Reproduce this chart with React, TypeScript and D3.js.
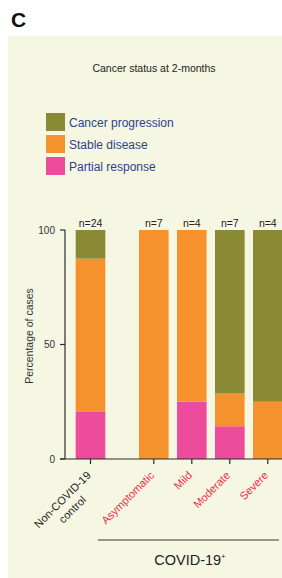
import React, { useEffect, useRef } from "react";
import * as d3 from "d3";

const controlCategory = ["Non-COVID-19 control"];
const covidCategories = ["Asymptomatic", "Mild", "Moderate", "Severe"];
const categories = [...controlCategory, ...covidCategories];
const nLabels = ["n=24", "n=7", "n=4", "n=7", "n=4"];
const seriesNames = ["Partial response", "Stable disease", "Cancer progression"];
const partialResponse = [20.8, 0, 25, 14.3, 0];
const stableDisease = [66.7, 100, 75, 14.3, 25];
const cancerProgression = [12.5, 0, 0, 71.4, 75];
const yTicks = [0, 50, 100];
const legendOrder = ["Cancer progression", "Stable disease", "Partial response"];

const colors: Record<string, string> = {
  "Cancer progression": "#8a8a34",
  "Stable disease": "#f6922d",
  "Partial response": "#ed4b9b",
};

const FONT = "'Liberation Sans', Arial, Helvetica, sans-serif";

export default function App() {
  const ref = useRef<SVGSVGElement | null>(null);

  useEffect(() => {
    const svg = d3.select(ref.current);
    svg.selectAll("*").remove();
    svg.attr("font-family", FONT);

    // panel background
    svg.append("rect").attr("x", 8).attr("y", 36).attr("width", 274).attr("height", 542).attr("fill", "#f6f7e3");

    svg.append("text").attr("x", 11).attr("y", 27).attr("font-size", 21).attr("font-weight", "bold").attr("fill", "#111").text("C");

    svg.append("text").attr("x", 154).attr("y", 72).attr("text-anchor", "middle").attr("font-size", 10.5).attr("fill", "#222").text("Cancer status at 2-months");

    // legend
    const lg = svg.append("g");
    legendOrder.forEach((name, i) => {
      const y0 = 113 + i * 22;
      lg.append("rect").attr("x", 46).attr("y", y0).attr("width", 19).attr("height", 18).attr("fill", colors[name]);
      lg.append("text").attr("x", 69).attr("y", y0 + 14).attr("font-size", 12).attr("fill", "#2d3f8e").text(name);
    });

    const y = d3.scaleLinear().domain([0, 100]).range([459, 230]);
    const xControl = d3.scaleBand<string>().domain(controlCategory).range([71.5, 109.5]).paddingInner(0.22).paddingOuter(0.11);
    const xCovid = d3.scaleBand<string>().domain(covidCategories).range([134.8, 286.8]).paddingInner(0.22).paddingOuter(0.11);
    const xPos = (c: string) => (controlCategory.includes(c) ? xControl(c)! : xCovid(c)!);
    const bw = xCovid.bandwidth();

    const rows = categories.map((c, i) => ({
      category: c,
      "Partial response": partialResponse[i],
      "Stable disease": stableDisease[i],
      "Cancer progression": cancerProgression[i],
    }));
    const stack = d3.stack<any>().keys(seriesNames)(rows);

    const bars = svg.append("g");
    stack.forEach((layer) => {
      bars
        .selectAll(null)
        .data(layer)
        .enter()
        .append("rect")
        .attr("x", (d: any) => xPos(d.data.category))
        .attr("width", bw)
        .attr("y", (d: any) => y(d[1]))
        .attr("height", (d: any) => Math.max(0, y(d[0]) - y(d[1])))
        .attr("fill", colors[layer.key]);
    });

    // n labels
    categories.forEach((c, i) => {
      svg.append("text").attr("x", xPos(c) + bw / 2).attr("y", 227).attr("text-anchor", "middle").attr("font-size", 10.5).attr("fill", "#222").text(nLabels[i]);
    });

    // y axis
    const axisColor = "#2a2a2a";
    svg.append("line").attr("x1", 65).attr("x2", 65).attr("y1", y(100)).attr("y2", y(0)).attr("stroke", axisColor).attr("stroke-width", 1.2);
    yTicks.forEach((t) => {
      svg.append("line").attr("x1", 60).attr("x2", 65).attr("y1", y(t)).attr("y2", y(t)).attr("stroke", axisColor).attr("stroke-width", 1.2);
      svg.append("text").attr("x", 55).attr("y", y(t)).attr("dy", "0.35em").attr("text-anchor", "end").attr("font-size", 10).attr("fill", "#333").text(String(t));
    });
    svg.append("text").attr("transform", `translate(33,336) rotate(-90)`).attr("text-anchor", "middle").attr("font-size", 10.5).attr("fill", "#333").text("Percentage of cases");

    // x axis
    svg.append("line").attr("x1", 60).attr("x2", 282).attr("y1", y(0)).attr("y2", y(0)).attr("stroke", axisColor).attr("stroke-width", 1.2);
    categories.forEach((c) => {
      const cx = xPos(c) + bw / 2;
      svg.append("line").attr("x1", cx).attr("x2", cx).attr("y1", y(0)).attr("y2", y(0) + 5).attr("stroke", axisColor).attr("stroke-width", 1.2);
    });

    // x labels
    const lblSize = 11;
    covidCategories.forEach((c) => {
      const cx = xPos(c) + bw / 2;
      svg.append("text").attr("transform", `translate(${cx + 1},${y(0) + 17}) rotate(-45)`).attr("text-anchor", "end").attr("font-size", lblSize).attr("fill", "#ef2f45").text(c);
    });
    {
      const cx = xControl(controlCategory[0])! + bw / 2;
      const g = svg.append("g").attr("transform", `translate(${cx + 1},${y(0) + 17}) rotate(-45)`);
      const t1 = g.append("text").attr("text-anchor", "end").attr("font-size", lblSize).attr("fill", "#222").text("Non-COVID-19");
      const w = (t1.node() as SVGTextElement).getComputedTextLength();
      g.append("text").attr("x", -w / 2).attr("y", 14).attr("text-anchor", "middle").attr("font-size", lblSize).attr("fill", "#222").text("control");
    }

    // group bracket
    svg.append("line").attr("x1", 98).attr("x2", 279).attr("y1", 540).attr("y2", 540).attr("stroke", "#333").attr("stroke-width", 1);
    const gt = svg.append("text").attr("x", 190).attr("y", 565).attr("text-anchor", "middle").attr("font-size", 14.5).attr("fill", "#222");
    gt.append("tspan").text("COVID-19");
    gt.append("tspan").attr("font-size", 8).attr("dy", -6).text("+");
  }, []);

  return <svg ref={ref} width={282} height={578} style={{ position: "absolute", left: 0, top: 0, background: "#fff" }} />;
}
